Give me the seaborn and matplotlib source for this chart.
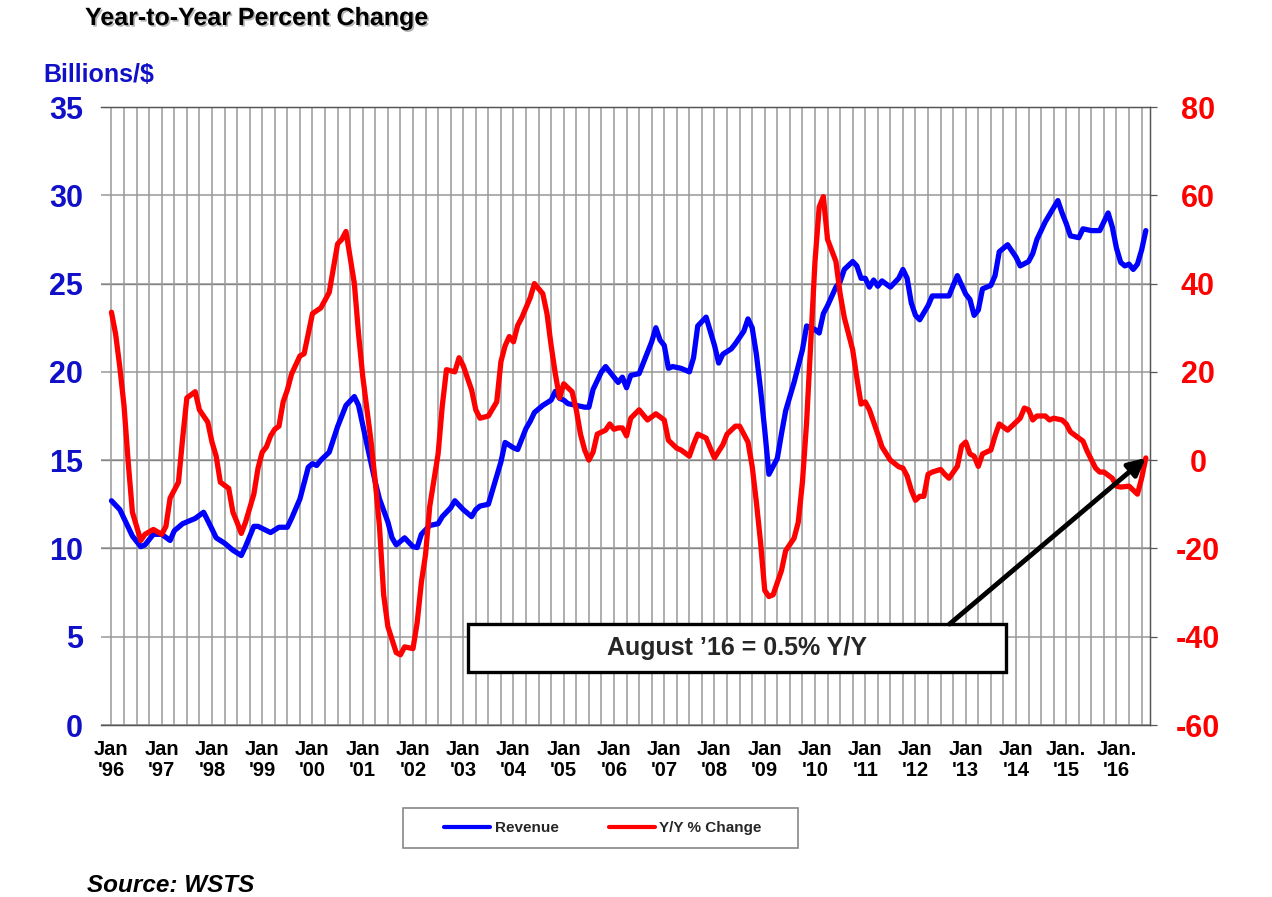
import matplotlib
matplotlib.use('Agg')
import matplotlib.pyplot as plt
import matplotlib.patheffects as pe
from matplotlib.patches import Rectangle
from matplotlib.ticker import MultipleLocator
import seaborn as sns
import pandas as pd

# months counted from Jan 1996
rev_month = [0, 2, 3, 5, 7, 8, 10, 12, 14, 15,
             17, 18, 20, 22, 24, 25, 27, 29, 31, 32,
             34, 35, 38, 40, 42, 43, 45, 47, 48, 49,
             50, 52, 54, 56, 58, 59, 61, 63, 64, 66,
             67, 68, 70, 72, 73, 74, 76, 78, 79, 81,
             82, 84, 86, 87, 88, 90, 91, 93, 94, 96,
             97, 99, 100, 101, 103, 105, 106, 107, 108, 109,
             111, 113, 114, 115, 117, 118, 120, 121, 122, 123,
             124, 126, 127, 129, 130, 131, 132, 133, 134, 136,
             138, 139, 140, 142, 144, 145, 146, 148, 149, 151,
             152, 153, 154, 155, 156, 157, 159, 160, 161, 163,
             165, 166, 168, 169, 170, 171, 173, 174, 175, 177,
             178, 179, 180, 181, 182, 183, 184, 186, 188, 189,
             190, 191, 192, 193, 195, 196, 198, 200, 201, 202,
             204, 205, 206, 207, 208, 210, 211, 212, 214, 216,
             217, 219, 220, 221, 223, 225, 226, 227, 228, 229,
             231, 232, 234, 236, 237, 238, 239, 240, 241, 242,
             243, 244, 245, 246, 247]
rev_value = [12.7, 12.2, 11.7, 10.7, 10.1, 10.2, 10.8, 10.8, 10.45, 11.0,
             11.4, 11.5, 11.7, 12.05, 11.1, 10.6, 10.3, 9.9, 9.6, 10.1,
             11.25, 11.25, 10.9, 11.2, 11.2, 11.7, 12.8, 14.6, 14.8, 14.7,
             15.0, 15.45, 16.9, 18.1, 18.6, 18.1, 15.9, 13.75, 12.8, 11.5,
             10.6, 10.2, 10.6, 10.1, 10.05, 10.8, 11.3, 11.4, 11.8, 12.3,
             12.7, 12.2, 11.8, 12.2, 12.4, 12.5, 13.3, 14.9, 16.0, 15.7,
             15.6, 16.8, 17.2, 17.7, 18.1, 18.4, 18.9, 18.5, 18.4, 18.2,
             18.1, 18.0, 18.0, 19.0, 20.0, 20.3, 19.7, 19.4, 19.7, 19.1,
             19.8, 19.9, 20.5, 21.7, 22.5, 21.8, 21.5, 20.2, 20.3, 20.2,
             20.0, 20.8, 22.6, 23.1, 21.5, 20.5, 21.0, 21.3, 21.6, 22.3,
             23.0, 22.5, 21.0, 19.0, 16.7, 14.2, 15.1, 16.5, 17.8, 19.4,
             21.25, 22.6, 22.4, 22.2, 23.3, 23.75, 24.8, 25.1, 25.8, 26.25,
             26.0, 25.3, 25.3, 24.8, 25.2, 24.85, 25.15, 24.8, 25.3, 25.8,
             25.3, 23.9, 23.2, 22.95, 23.75, 24.3, 24.3, 24.3, 24.9, 25.45,
             24.4, 24.1, 23.2, 23.5, 24.7, 24.9, 25.45, 26.8, 27.2, 26.5,
             26.0, 26.25, 26.7, 27.5, 28.5, 29.3, 29.7, 29.0, 28.4, 27.7,
             27.6, 28.1, 28.0, 28.0, 28.5, 29.0, 28.2, 27.0, 26.2, 26.0,
             26.1, 25.8, 26.1, 26.9, 28.0]

yoy_month = [0, 1, 2, 3, 4, 5, 7, 8, 10, 12,
             13, 14, 16, 17, 18, 20, 21, 23, 24, 25,
             26, 28, 29, 30, 31, 32, 34, 35, 36, 37,
             38, 39, 40, 41, 42, 43, 45, 46, 47, 48,
             50, 52, 54, 55, 56, 58, 59, 60, 62, 63,
             64, 65, 66, 68, 69, 70, 72, 73, 74, 75,
             76, 78, 79, 80, 82, 83, 84, 86, 87, 88,
             90, 92, 93, 94, 95, 96, 97, 98, 100, 101,
             103, 104, 105, 106, 107, 108, 110, 111, 112, 113,
             114, 115, 116, 118, 119, 120, 121, 122, 123, 124,
             126, 128, 130, 132, 133, 135, 136, 138, 139, 140,
             142, 143, 144, 146, 147, 149, 150, 152, 153, 154,
             155, 156, 157, 158, 160, 161, 163, 164, 165, 166,
             167, 168, 169, 170, 171, 173, 174, 175, 177, 178,
             179, 180, 181, 183, 184, 186, 188, 189, 190, 191,
             192, 193, 194, 195, 196, 198, 199, 200, 202, 203,
             204, 205, 206, 207, 208, 210, 211, 212, 214, 216,
             217, 218, 219, 220, 221, 223, 224, 225, 227, 228,
             229, 231, 232, 233, 235, 236, 237, 239, 240, 241,
             243, 245, 246, 247]
yoy_value = [33.5, 28.5, 21.0, 12.3, -0.5, -11.8, -18.2, -16.8, -15.7, -16.8,
             -15.0, -8.6, -5.0, 5.0, 14.1, 15.5, 11.4, 8.6, 4.1, 0.9,
             -5.0, -6.4, -11.8, -14.1, -16.6, -14.1, -7.7, -1.8, 1.8, 3.0,
             5.5, 7.0, 7.7, 13.2, 15.9, 19.5, 23.6, 24.1, 28.6, 33.2,
             34.5, 38.0, 49.0, 50.0, 51.8, 40.0, 28.6, 19.0, 4.1, -5.0,
             -15.0, -30.5, -37.7, -43.6, -44.1, -42.3, -42.7, -36.8, -27.7, -21.4,
             -10.5, 1.4, 12.3, 20.5, 20.0, 23.2, 21.4, 15.9, 11.4, 9.5,
             10.0, 13.2, 22.3, 25.9, 28.0, 26.8, 30.5, 32.3, 36.8, 40.0,
             37.7, 33.2, 25.9, 19.5, 14.1, 17.3, 15.5, 11.4, 5.9, 2.3,
             0.0, 1.8, 5.9, 6.8, 8.2, 7.0, 7.3, 7.3, 5.5, 9.5,
             11.4, 9.1, 10.5, 9.1, 4.5, 2.7, 2.3, 0.9, 3.6, 5.9,
             5.0, 2.7, 0.5, 3.5, 5.9, 7.7, 7.7, 4.1, -1.4, -9.5,
             -18.6, -29.5, -30.9, -30.5, -25.0, -20.5, -17.7, -14.1, -5.0, 8.6,
             26.8, 45.0, 57.3, 59.7, 50.0, 45.0, 37.7, 32.3, 25.0, 18.6,
             12.7, 13.2, 11.4, 5.9, 3.0, 0.0, -1.5, -1.8, -3.6, -6.8,
             -9.1, -8.2, -8.2, -3.2, -2.7, -2.1, -3.2, -4.1, -1.4, 3.2,
             4.1, 1.4, 0.9, -1.4, 1.4, 2.3, 5.5, 8.2, 6.8, 8.6,
             9.5, 11.8, 11.4, 9.1, 10.0, 10.0, 9.1, 9.5, 9.1, 8.2,
             6.4, 5.0, 4.3, 2.0, -1.8, -2.7, -2.7, -4.1, -5.9, -6.1,
             -5.9, -7.7, -4.1, 0.5]

year_labels = ["Jan\n'96", "Jan\n'97", "Jan\n'98", "Jan\n'99", "Jan\n'00",
               "Jan\n'01", "Jan\n'02", "Jan\n'03", "Jan\n'04", "Jan\n'05",
               "Jan\n'06", "Jan\n'07", "Jan\n'08", "Jan\n'09", "Jan\n'10",
               "Jan\n'11", "Jan\n'12", "Jan\n'13", "Jan\n'14", "Jan.\n'15",
               "Jan.\n'16"]

rev_df = pd.DataFrame({'month': rev_month, 'revenue': rev_value})
yoy_df = pd.DataFrame({'month': yoy_month, 'yoy': yoy_value})

sns.set_theme(style='white')
plt.rcParams['font.family'] = ['Liberation Sans', 'DejaVu Sans']
plt.rcParams['axes.unicode_minus'] = False

BLUE = '#0000ff'
RED = '#ff0000'
W, H = 1272, 897

fig = plt.figure(figsize=(W / 100, H / 100), dpi=100)
ax = fig.add_axes([101 / W, 172 / H, 1049 / W, 618 / H])
ax2 = ax.twinx()

sns.lineplot(data=rev_df, x='month', y='revenue', ax=ax, color=BLUE,
             linewidth=3.8, label='Revenue', legend=False)
sns.lineplot(data=yoy_df, x='month', y='yoy', ax=ax2, color=RED,
             linewidth=3.8, label='Y/Y % Change', legend=False)

ax.set_xlim(-2.5, 248)
ax.set_ylim(0, 35)
ax2.set_ylim(-60, 80)

# grid
ax.set_axisbelow(True)
ax.set_xticks(range(0, 241, 12))
ax.set_xticklabels(year_labels)
ax.xaxis.set_minor_locator(MultipleLocator(3))
ax.grid(axis='x', which='both', color='#999999', linewidth=1.1)
ax.set_yticks(range(0, 36, 5))
ax.grid(axis='y', which='major', color='#999999', linewidth=1.1)
for lvl in [10, 15, 25]:
    ax.axhline(lvl, color='#444444', linewidth=0.9, zorder=0.5)

ax.set_xlabel('')
ax.set_ylabel('')
ax2.set_ylabel('')

for a in (ax, ax2):
    a.spines['left'].set_visible(False)
    for s in ('top', 'bottom', 'right'):
        a.spines[s].set_color('#555555')
        a.spines[s].set_linewidth(0.9)

ax.tick_params(axis='x', which='both', length=0, pad=11, labelsize=14.5)
for lab in ax.get_xticklabels():
    lab.set_fontweight('bold')
    lab.set_color('black')
    lab.set_linespacing(1.1)
ax.tick_params(axis='y', length=0, pad=13, labelsize=22, labelcolor='#1010c8')
for lab in ax.get_yticklabels():
    lab.set_fontweight('bold')

ax2.set_yticks(range(-60, 81, 20))
ax2.tick_params(axis='y', length=5, width=0.9, color='#555555', pad=29.5,
                labelsize=22, labelcolor=RED)
for lab in ax2.get_yticklabels():
    lab.set_fontweight('bold')
    lab.set_horizontalalignment('center')

# callout box and arrow
box = Rectangle((0.3499, 0.0858), 0.5128, 0.0777, transform=ax2.transAxes,
                facecolor='white', edgecolor='black', linewidth=2.4, zorder=10)
ax2.add_patch(box)
ax2.text(0.606, 0.1246, 'August \u201916 = 0.5% Y/Y', transform=ax2.transAxes,
         ha='center', va='center', fontsize=18, fontweight='bold', zorder=11)
ax2.annotate('', xy=(yoy_month[-1], yoy_value[-1]), xycoords='data',
             xytext=(0.809, 0.1634), textcoords='axes fraction',
             arrowprops=dict(arrowstyle='-|>', color='black', lw=3.5,
                             mutation_scale=26, shrinkA=0, shrinkB=0),
             zorder=12)

# texts
fig.text(85 / W, 1 - 18 / H, 'Year-to-Year Percent Change', ha='left', va='center',
         fontsize=18, fontweight='bold', color='black',
         path_effects=[pe.SimplePatchShadow(offset=(1.2, -1.2), shadow_rgbFace='#999999', alpha=0.7),
                       pe.Normal()])
fig.text(43 / W, 1 - 75 / H, 'Billions/$', ha='left', va='center',
         fontsize=18, fontweight='bold', color='#1010c8')
fig.text(87 / W, 1 - 885 / H, 'Source: WSTS', ha='left', va='center',
         fontsize=17.5, fontweight='bold', fontstyle='italic', color='black')

# legend
frame = Rectangle((403 / W, 1 - 848 / H), 395 / W, 40 / H, transform=fig.transFigure,
                  facecolor='white', edgecolor='#888888', linewidth=1.2)
fig.patches.append(frame)
handles = ax.get_lines()[:1] + ax2.get_lines()[:1]
leg = fig.legend(handles=handles, labels=['Revenue', 'Y/Y % Change'],
                 loc='center', bbox_to_anchor=(603 / W, 1 - 828 / H), ncol=2,
                 frameon=False, handlelength=3.0, handletextpad=0.3,
                 columnspacing=3.3, prop={'weight': 'bold', 'size': 11})
for line in leg.get_lines():
    line.set_linewidth(3)

fig.savefig('out.png', dpi=100)
